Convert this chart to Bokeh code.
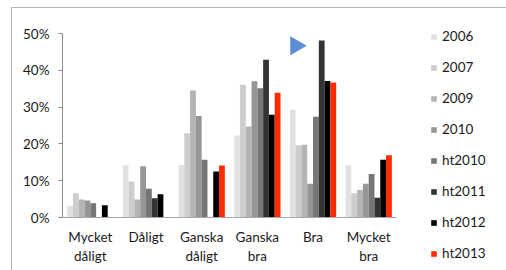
import math
from bokeh.plotting import figure
from bokeh.models import (ColumnDataSource, FixedTicker, PrintfTickFormatter, Legend, LegendItem,
                          Range1d, InlineStyleSheet)
from bokeh.transform import dodge
from bokeh.core.properties import value
from bokeh.embed import file_html
from bokeh.resources import INLINE

categories = ["Mycket dåligt", "Dåligt", "Ganska dåligt", "Ganska bra", "Bra", "Mycket bra"]
tick_labels = ["Mycket\ndåligt", "Dåligt", "Ganska\ndåligt", "Ganska\nbra", "Bra", "Mycket\nbra"]
series = ["2006", "2007", "2009", "2010", "ht2010", "ht2011", "ht2012", "ht2013"]

v2006 = [3.1, 14.1, 14.3, 22.3, 29.3, 14.2]
v2007 = [6.6, 9.8, 22.9, 36.1, 19.6, 6.6]
v2009 = [4.9, 4.9, 34.5, 24.7, 19.8, 7.5]
v2010 = [4.6, 13.9, 27.6, 37.0, 9.2, 9.2]
vht2010 = [3.9, 7.8, 15.7, 35.1, 27.4, 11.8]
vht2011 = [0.0, 5.2, 0.0, 42.9, 48.1, 5.4]
vht2012 = [3.3, 6.3, 12.5, 27.9, 37.1, 15.7]
vht2013 = [0.0, 0.0, 14.1, 33.9, 36.7, 16.9]
y_ticks = [0, 10, 20, 30, 40, 50]

# decorative arrow marker (position in data units)
arrow_x = [4.19]
arrow_y = [46.7]

colors = ["#e1e1e1", "#cdcdcd", "#b4b4b4", "#969696", "#767676", "#333333", "#000000", "#ff2a00"]
values_all = [v2006, v2007, v2009, v2010, vht2010, vht2011, vht2012, vht2013]

pos = [i + 0.5 for i in range(len(categories))]
data = {"x": pos, "y0": [y_ticks[0]] * len(pos), "label": tick_labels}
for s, v in zip(series, values_all):
    data[s] = v
src = ColumnDataSource(data)

FONT = "Lato"
FS = "13.5px"
TXT = "#1a1a1a"

# layout geometry (pixels)
W, H = 506, 270
LEFT = 62
PX_PER_CAT = 55.67
PX_PER_UNIT = 3.68
PLOT_TOP, PLOT_BOTTOM = 33, 217
ncat = len(categories)
ymax = y_ticks[-1]
x_end = (W - LEFT) / PX_PER_CAT
y_lo = -(H - PLOT_BOTTOM) / PX_PER_UNIT
y_hi = ymax + PLOT_TOP / PX_PER_UNIT

p = figure(frame_width=W - LEFT, frame_height=H, output_backend="svg", toolbar_location=None,
           x_range=Range1d(0, x_end), y_range=Range1d(y_lo, y_hi),
           min_border_left=LEFT, min_border_right=0, min_border_top=0, min_border_bottom=0,
           x_axis_location=None)
p.outline_line_color = None
p.xgrid.grid_line_color = None
p.ygrid.grid_line_color = None
p.background_fill_color = "white"
p.border_fill_color = None

bw = 0.104
renderers = []
for i, (s, c) in enumerate(zip(series, colors)):
    off = (i - 3.5) * bw
    r = p.vbar(x=dodge("x", off, range=p.x_range), top=s, width=bw, source=src,
               fill_color=c, line_color=None)
    renderers.append(r)

p.scatter(x=arrow_x, y=arrow_y, marker="triangle", size=19, angle=-math.pi / 2,
          fill_color="#5b8ed4", line_color=None)

# category axis: baseline and labels
p.segment(x0=[0], x1=[ncat], y0=[y_ticks[0]], y1=[y_ticks[0]], line_color="#a6a6a6", line_width=1)
p.text(x="x", y="y0", text="label", source=src, text_align="center", text_baseline="top",
       y_offset=11, text_font=value(FONT), text_font_size=value(FS), text_color=TXT,
       text_line_height=1.2)

# value axis
p.yaxis.bounds = (y_ticks[0], ymax)
p.yaxis.ticker = FixedTicker(ticks=y_ticks)
p.yaxis.formatter = PrintfTickFormatter(format="%d%%")
p.yaxis.minor_tick_line_color = None
p.yaxis.major_tick_out = 4
p.yaxis.major_tick_in = 0
p.yaxis.axis_line_color = "#8c8c8c"
p.yaxis.major_tick_line_color = "#8c8c8c"
p.yaxis.major_label_standoff = 9
p.yaxis.major_label_text_font = FONT
p.yaxis.major_label_text_font_size = FS
p.yaxis.major_label_text_color = TXT

items = [LegendItem(label=s, renderers=[r]) for s, r in zip(series, renderers)]
legend = Legend(items=items, location=(430 - LEFT, H - 263), orientation="vertical",
                glyph_width=7, glyph_height=7, label_height=20, spacing=11,
                label_standoff=5, padding=0, margin=0,
                border_line_color=None, background_fill_alpha=0,
                label_text_font=FONT, label_text_font_size=FS, label_text_color=TXT)
p.add_layout(legend, "center")

p.stylesheets = [InlineStyleSheet(css=(
    ":host { position: relative; }"
    ":host::after { content: ''; position: absolute; left: 11px; top: 7px; right: -20px; bottom: -20px;"
    " border-left: 1px solid #b5b5b5; border-top: 1px solid #b5b5b5; pointer-events: none; }"))]

open("out.html", "w").write(file_html(p, INLINE))
